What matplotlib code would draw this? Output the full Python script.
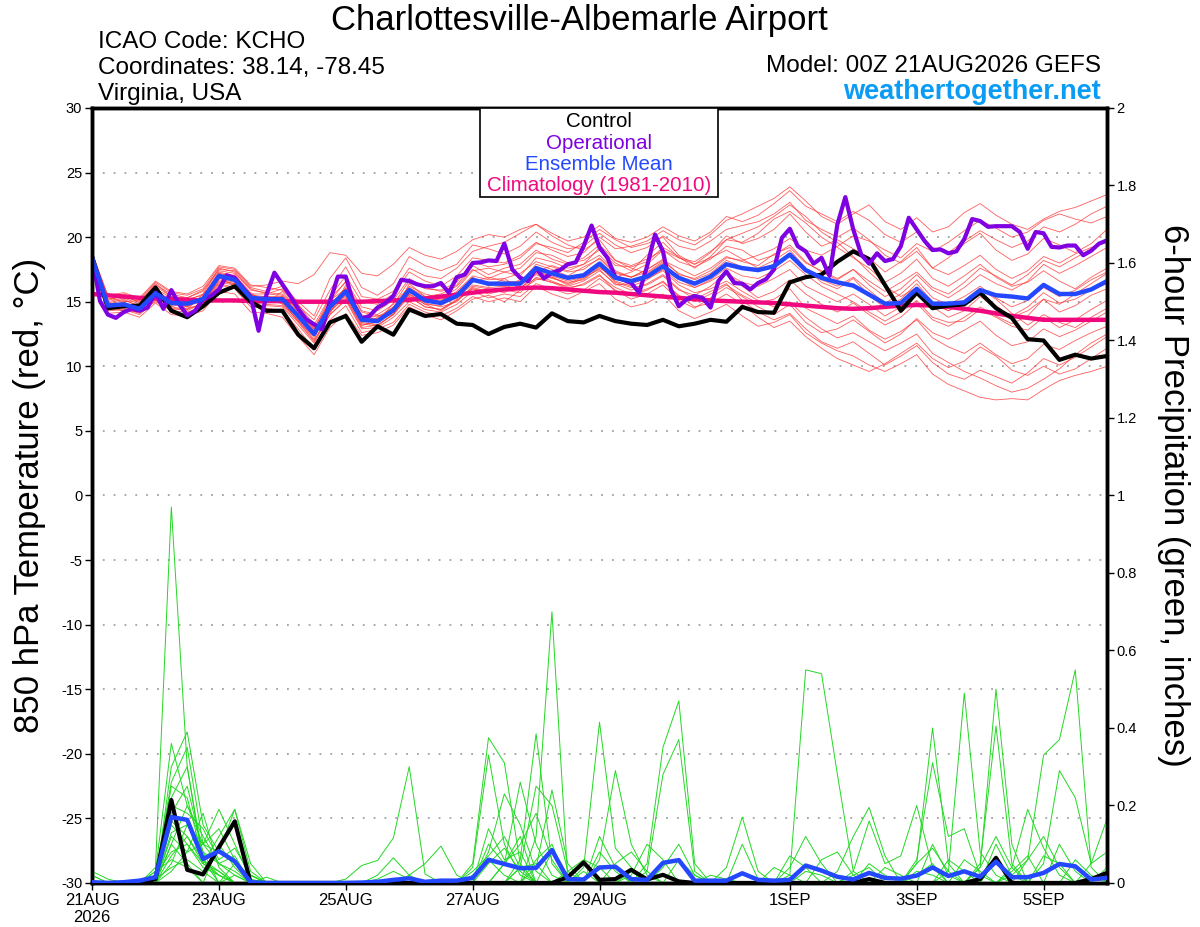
import pandas as pd
import matplotlib
matplotlib.use("Agg")
import matplotlib.pyplot as plt
from matplotlib.patches import Rectangle

plt.rcParams["font.family"] = ["Liberation Sans", "DejaVu Sans"]
plt.rcParams["axes.unicode_minus"] = False

# TIME AXIS (GEFS 00Z run, 6-hourly members, 3-hourly operational)

run_start = pd.Timestamp("2026-08-21 00:00")
times6 = pd.date_range(run_start, periods=65, freq="6h")
times3 = pd.date_range(run_start, periods=129, freq="3h")

tick_dates = pd.to_datetime(["2026-08-21", "2026-08-23", "2026-08-25", "2026-08-27",
                             "2026-08-29", "2026-09-01", "2026-09-03", "2026-09-05"])
tick_labels = ["21AUG\n2026", "23AUG", "25AUG", "27AUG", "29AUG", "1SEP", "3SEP", "5SEP"]

temp_ticks = list(range(-30, 31, 5))
precip_ticks = [0, 0.2, 0.4, 0.6, 0.8, 1.0, 1.2, 1.4, 1.6, 1.8, 2.0]
precip_tick_labels = ["0", "0.2", "0.4", "0.6", "0.8", "1", "1.2", "1.4", "1.6", "1.8", "2"]

# 850 hPa TEMPERATURE (C)

control_t = [18.5, 14.5, 14.65, 14.7, 16.1, 14.3, 13.8, 14.65, 15.7, 16.2,
             15.0, 14.3, 14.3, 12.45, 11.4, 13.4, 13.9, 11.9, 13.1, 12.45,
             14.4, 13.9, 14.05, 13.3, 13.2, 12.5, 13.05, 13.3, 13.0, 14.1,
             13.5, 13.4, 13.9, 13.5, 13.3, 13.2, 13.6, 13.1, 13.3, 13.6,
             13.45, 14.6, 14.2, 14.15, 16.5, 16.9, 17.1, 18.1, 18.9, 18.3,
             16.3, 14.3, 15.7, 14.5, 14.7, 14.8, 15.7, 14.5, 13.75, 12.1,
             12.0, 10.5, 10.9, 10.6, 10.8]

mean_t = [18.4, 14.7, 14.8, 14.45, 15.65, 14.9, 14.85, 15.2, 17.0, 16.7,
          15.3, 15.2, 15.2, 13.9, 12.5, 14.6, 15.8, 13.6, 13.5, 14.35,
          15.9, 15.1, 14.9, 15.45, 16.7, 16.4, 16.4, 16.4, 17.6, 17.2,
          16.85, 17.05, 17.95, 16.85, 16.6, 16.95, 17.75, 16.85, 16.4, 16.95,
          17.9, 17.6, 17.45, 17.75, 18.65, 17.45, 16.85, 16.5, 16.25, 15.55,
          14.85, 14.9, 16.0, 14.85, 14.85, 14.95, 15.9, 15.5, 15.4, 15.25,
          16.3, 15.6, 15.6, 15.95, 16.6]

clim_t = [15.6, 15.5, 15.4, 15.3, 15.25, 15.2, 15.15, 15.1, 15.1, 15.1,
          15.05, 15.05, 15.05, 15.0, 15.0, 15.0, 15.0, 15.0, 15.05, 15.1,
          15.15, 15.25, 15.4, 15.55, 15.7, 15.85, 15.95, 16.05, 16.1, 16.05,
          15.95, 15.85, 15.75, 15.7, 15.6, 15.5, 15.4, 15.3, 15.2, 15.1,
          15.05, 15.0, 14.95, 14.9, 14.8, 14.7, 14.6, 14.5, 14.45, 14.5,
          14.6, 14.7, 14.75, 14.7, 14.6, 14.45, 14.3, 14.1, 13.9, 13.75,
          13.6, 13.6, 13.6, 13.6, 13.6]

oper_t = [18.5, 15.05, 14.0, 13.75, 14.2, 14.45, 14.3, 14.55, 15.7, 14.45,
          15.9, 14.8, 13.95, 14.3, 15.2, 15.45, 15.95, 17.05, 16.85, 16.1,
          15.4, 12.75, 15.55, 17.25, 16.35, 15.45, 14.45, 13.65, 13.25, 12.85,
          15.0, 16.95, 16.95, 14.8, 13.7, 13.9, 14.55, 14.9, 15.45, 16.7,
          16.6, 16.35, 16.2, 16.2, 16.45, 15.7, 16.9, 17.1, 18.0, 18.05,
          18.2, 18.15, 19.5, 17.5, 16.85, 16.6, 17.6, 16.8, 17.25, 17.45,
          17.9, 18.05, 19.3, 20.9, 19.2, 18.4, 16.9, 16.7, 16.45, 15.7,
          17.75, 20.2, 18.9, 15.95, 14.65, 15.2, 15.45, 15.3, 14.55, 16.6,
          17.35, 16.45, 16.4, 15.95, 16.45, 16.75, 17.5, 19.95, 20.65, 19.3,
          18.9, 17.95, 18.4, 17.0, 21.0, 23.1, 20.6, 18.65, 17.95, 18.75,
          18.15, 18.3, 19.3, 21.5, 20.6, 19.7, 19.0, 19.05, 18.75, 18.9,
          19.85, 21.4, 21.25, 20.8, 20.85, 20.85, 20.85, 20.4, 19.1, 20.4,
          20.3, 19.25, 19.2, 19.35, 19.35, 18.6, 18.95, 19.5, 19.75]

members_t = [
    [18.6, 15.2, 15.4, 15.0, 16.3, 15.6, 15.3, 15.8, 17.4, 17.2,
     16.0, 15.6, 16.0, 14.8, 13.2, 15.4, 17.0, 15.0, 14.8, 15.6,
     17.3, 16.6, 16.2, 17.0, 18.4, 18.2, 18.0, 18.6, 19.6, 19.0,
     18.5, 18.8, 20.0, 19.1, 19.3, 19.7, 20.5, 19.8, 19.4, 20.2,
     21.3, 21.8, 22.4, 23.0, 23.9, 22.8, 21.6, 21.0, 21.8, 22.5,
     21.2, 20.6, 21.5, 20.4, 20.8, 21.9, 22.6, 21.7, 21.0, 20.6,
     21.4, 22.0, 22.3, 22.8, 23.3],
    [18.5, 14.3, 14.4, 14.0, 15.1, 14.3, 14.2, 14.6, 16.3, 16.0,
     14.6, 14.5, 14.3, 12.9, 11.3, 13.6, 14.7, 12.6, 12.9, 13.4,
     14.8, 14.2, 13.9, 14.5, 15.4, 15.0, 15.3, 15.0, 16.2, 15.6,
     15.2, 15.8, 16.4, 15.2, 14.6, 14.9, 15.6, 14.3, 13.7, 14.2,
     14.8, 13.9, 13.1, 13.4, 14.0, 12.6, 11.8, 11.2, 10.8, 10.1,
     9.6, 10.2, 10.9, 9.4, 8.6, 8.1, 7.6, 7.4, 7.5, 7.4,
     8.2, 8.9, 9.3, 9.6, 10.0],
    [18.7, 14.9, 14.2, 14.6, 15.3, 15.2, 14.4, 15.6, 16.8, 17.1,
     15.7, 14.9, 15.8, 14.3, 12.9, 14.1, 16.3, 14.2, 13.9, 14.0,
     16.4, 15.4, 15.6, 16.2, 17.5, 16.8, 17.3, 17.0, 18.4, 18.1,
     17.6, 17.9, 19.2, 18.0, 17.4, 18.6, 19.6, 18.4, 17.9, 18.8,
     20.1, 19.5, 19.9, 20.6, 21.8, 20.4, 19.3, 19.8, 19.1, 18.4,
     17.3, 18.1, 19.2, 17.6, 18.4, 19.5, 20.3, 19.0, 18.2, 18.7,
     19.9, 19.4, 18.8, 19.5, 20.6],
    [18.4, 14.6, 15.0, 14.2, 15.9, 14.6, 15.0, 14.9, 16.6, 16.4,
     15.0, 15.5, 14.8, 13.6, 12.1, 14.9, 15.4, 13.1, 13.8, 14.6,
     15.5, 14.8, 14.3, 15.1, 16.0, 15.6, 15.9, 16.1, 16.8, 16.5,
     16.0, 16.4, 17.1, 15.8, 15.5, 15.9, 16.6, 15.4, 15.0, 15.6,
     16.3, 15.5, 14.9, 15.2, 16.0, 14.5, 13.9, 13.3, 13.9, 12.8,
     12.1, 12.7, 13.6, 12.2, 11.5, 11.0, 11.8, 10.9, 10.2, 10.6,
     11.7, 11.3, 12.0, 12.6, 13.1],
    [18.8, 15.5, 15.7, 15.3, 16.6, 15.8, 15.6, 16.2, 17.8, 17.6,
     16.3, 16.1, 15.9, 14.7, 13.6, 15.9, 17.7, 15.4, 15.2, 15.8,
     17.6, 17.0, 16.8, 17.6, 18.9, 19.3, 19.6, 20.3, 21.0, 20.1,
     19.4, 19.0, 19.8, 18.2, 17.6, 17.2, 18.0, 16.8, 16.1, 16.6,
     17.3, 16.2, 15.3, 15.8, 16.7, 15.6, 14.8, 14.2, 14.9, 14.0,
     13.2, 13.8, 14.9, 13.6, 13.1, 13.8, 14.6, 13.9, 13.3, 13.9,
     15.2, 14.8, 15.6, 16.4, 17.2],
    [18.3, 14.1, 14.2, 13.8, 14.9, 14.0, 13.9, 14.3, 15.8, 15.6,
     14.2, 14.1, 13.8, 12.3, 10.9, 13.0, 14.1, 12.4, 12.6, 13.2,
     14.6, 14.0, 13.6, 14.3, 15.2, 15.5, 15.0, 15.9, 16.7, 16.9,
     16.3, 16.8, 17.6, 16.9, 17.3, 17.9, 19.0, 18.4, 18.1, 18.9,
     19.8, 20.3, 20.8, 21.6, 22.5, 21.6, 20.4, 19.6, 18.5, 17.3,
     16.2, 15.4, 16.1, 14.8, 14.3, 15.1, 16.0, 15.2, 14.1, 13.2,
     14.0, 13.4, 13.0, 13.8, 14.5],
    [18.6, 14.8, 15.1, 14.7, 15.4, 15.0, 14.6, 15.4, 17.2, 16.9,
     15.6, 15.0, 15.3, 14.1, 12.7, 15.1, 16.0, 14.0, 13.4, 14.9,
     16.1, 15.4, 15.1, 15.7, 16.9, 16.2, 16.8, 16.0, 17.3, 17.8,
     17.4, 17.9, 18.6, 17.4, 16.9, 17.5, 18.2, 17.6, 17.0, 17.6,
     18.5, 18.1, 17.8, 18.7, 19.2, 18.0, 17.4, 16.8, 17.5, 16.6,
     15.8, 16.5, 17.3, 16.1, 15.6, 16.5, 17.6, 17.0, 16.3, 17.1,
     18.2, 17.7, 18.4, 19.1, 19.8],
    [18.5, 14.5, 14.9, 14.5, 15.7, 14.7, 15.2, 15.1, 16.9, 16.2,
     15.3, 15.4, 15.0, 13.5, 12.3, 14.3, 15.6, 13.3, 13.1, 14.1,
     15.6, 14.9, 14.6, 15.0, 16.2, 16.0, 15.7, 16.3, 17.1, 16.6,
     16.1, 16.3, 17.0, 16.1, 15.6, 16.0, 16.5, 15.5, 14.6, 14.9,
     15.6, 14.8, 13.8, 13.0, 13.5, 12.3, 11.4, 10.6, 10.1, 9.6,
     10.2, 11.0, 11.8, 10.6, 9.9, 10.4, 11.5, 10.8, 9.7, 9.3,
     10.0, 9.4, 9.8, 10.6, 11.4],
    [18.4, 14.9, 14.6, 14.3, 15.8, 14.8, 14.7, 15.0, 16.9, 16.6,
     15.2, 15.0, 15.4, 14.0, 12.6, 14.4, 15.9, 13.7, 13.9, 14.2,
     15.7, 15.3, 15.2, 15.5, 16.5, 16.9, 16.6, 16.5, 17.9, 17.5,
     17.0, 17.7, 18.3, 17.2, 16.9, 17.5, 18.3, 17.1, 16.8, 17.4,
     18.4, 18.2, 18.6, 19.1, 19.9, 19.0, 18.6, 19.3, 20.1, 19.7,
     19.0, 18.4, 19.5, 18.9, 19.6, 20.5, 21.3, 20.7, 20.0, 20.4,
     21.3, 21.8, 21.4, 21.1, 21.6],
    [18.6, 14.4, 14.5, 14.1, 15.2, 14.5, 14.3, 14.9, 16.5, 16.3,
     14.8, 14.7, 14.6, 13.2, 11.8, 14.0, 15.1, 12.9, 13.0, 13.8,
     15.0, 14.4, 14.2, 14.8, 15.8, 15.3, 15.6, 15.4, 16.4, 16.0,
     15.6, 15.9, 16.8, 15.9, 15.2, 15.6, 16.3, 15.1, 14.5, 15.3,
     16.1, 15.4, 14.6, 14.0, 14.8, 13.4, 12.6, 12.9, 13.6, 12.7,
     11.8, 12.5, 13.7, 12.6, 12.1, 12.8, 13.5, 12.4, 11.6, 11.9,
     12.9, 12.3, 12.8, 13.5, 14.2],
    [18.7, 15.0, 15.3, 14.8, 16.0, 15.3, 15.1, 15.6, 17.6, 17.3,
     15.9, 15.7, 15.6, 14.4, 13.0, 15.0, 16.6, 14.6, 14.3, 15.1,
     16.8, 16.1, 15.8, 16.3, 17.8, 17.1, 17.6, 17.9, 19.0, 18.3,
     17.9, 18.4, 19.4, 18.2, 17.8, 18.3, 19.0, 18.1, 17.7, 18.3,
     19.3, 19.0, 18.2, 18.6, 19.4, 18.1, 17.3, 16.7, 17.5, 16.3,
     15.4, 16.0, 17.1, 15.9, 15.3, 16.1, 17.1, 16.4, 15.9, 16.6,
     17.9, 17.2, 17.8, 18.5, 19.2],
    [18.5, 14.7, 14.6, 14.6, 15.5, 14.9, 14.6, 15.3, 17.0, 16.8,
     15.4, 15.3, 15.1, 13.7, 12.4, 14.5, 15.7, 13.5, 13.6, 14.4,
     16.0, 15.2, 14.8, 15.3, 16.6, 16.5, 16.2, 16.7, 17.4, 16.9,
     16.4, 16.9, 17.5, 16.3, 16.4, 16.8, 17.4, 16.3, 15.7, 16.0,
     16.6, 15.8, 15.1, 14.6, 15.0, 13.8, 12.9, 12.2, 12.6, 11.9,
     11.2, 11.8, 12.5, 11.0, 10.3, 9.6, 9.1, 8.5, 8.0, 8.3,
     9.0, 9.8, 10.9, 11.8, 12.5],
    [18.6, 15.1, 15.5, 14.9, 16.2, 15.4, 15.3, 15.9, 17.5, 17.4,
     16.1, 15.8, 16.2, 15.0, 13.9, 16.8, 18.4, 16.1, 15.5, 16.4,
     18.5, 17.8, 17.4, 17.9, 19.4, 19.1, 18.7, 19.3, 20.4, 19.6,
     19.1, 19.3, 20.3, 19.4, 18.8, 19.2, 20.1, 19.3, 19.0, 19.7,
     20.6, 20.9, 21.2, 21.8, 22.7, 21.3, 20.6, 20.0, 20.7, 19.8,
     18.6, 18.0, 18.9, 17.6, 17.1, 17.8, 18.6, 17.5, 16.8, 17.4,
     18.5, 18.0, 18.7, 19.2, 19.6],
    [18.4, 14.6, 14.7, 14.3, 15.6, 14.8, 14.9, 15.0, 16.8, 16.5,
     15.1, 15.1, 15.0, 13.8, 12.4, 14.2, 15.5, 13.4, 13.2, 14.0,
     15.6, 14.8, 14.7, 15.4, 16.3, 16.1, 16.2, 16.0, 17.2, 16.8,
     16.5, 16.7, 17.7, 16.6, 16.2, 16.7, 17.5, 16.5, 16.1, 16.7,
     17.6, 17.0, 16.8, 17.4, 18.2, 17.1, 16.2, 15.6, 15.0, 14.2,
     13.5, 14.2, 15.1, 13.8, 13.4, 13.5, 14.4, 13.8, 13.1, 12.8,
     13.8, 13.0, 13.6, 14.4, 15.1],
    [18.5, 14.8, 14.9, 14.5, 15.8, 15.0, 14.8, 15.3, 17.1, 16.9,
     15.5, 15.4, 15.4, 14.2, 12.8, 14.8, 16.0, 13.9, 13.6, 14.6,
     16.2, 15.6, 15.3, 16.0, 17.4, 17.6, 17.3, 17.6, 18.8, 18.6,
     18.0, 18.2, 19.0, 17.8, 17.7, 18.1, 19.2, 18.5, 17.6, 18.5,
     19.8, 19.6, 20.3, 21.4, 22.0, 21.1, 20.0, 19.2, 18.4, 17.6,
     16.5, 17.2, 18.3, 16.8, 16.2, 17.0, 17.9, 16.9, 16.2, 16.5,
     17.4, 16.6, 16.0, 16.9, 17.6],
    [18.6, 14.5, 14.3, 14.2, 15.0, 14.4, 14.5, 14.8, 16.4, 16.1,
     14.9, 14.8, 14.7, 13.4, 11.9, 14.3, 15.3, 13.2, 13.4, 14.3,
     15.4, 14.6, 14.4, 15.2, 16.1, 15.8, 16.0, 16.6, 17.3, 17.0,
     16.6, 16.9, 17.8, 16.5, 16.1, 16.3, 17.0, 15.9, 15.5, 16.2,
     17.2, 16.5, 16.2, 16.8, 17.5, 16.2, 15.6, 15.0, 15.6, 14.8,
     13.9, 14.6, 15.8, 14.6, 13.8, 14.3, 15.4, 14.6, 13.9, 14.6,
     15.7, 14.9, 15.2, 15.9, 16.4],
    [18.8, 15.3, 15.0, 15.1, 16.4, 15.4, 15.2, 15.5, 17.3, 17.0,
     15.6, 15.6, 15.5, 14.3, 12.9, 15.3, 16.5, 14.3, 14.0, 14.8,
     16.6, 16.0, 15.9, 16.5, 18.1, 17.7, 17.9, 18.4, 19.5, 19.2,
     18.8, 19.6, 20.6, 19.8, 19.2, 19.5, 20.0, 18.6, 17.9, 18.4,
     19.0, 18.3, 17.6, 18.2, 19.0, 17.6, 16.5, 16.0, 16.8, 15.5,
     14.5, 15.2, 16.4, 15.0, 14.3, 14.9, 15.8, 14.7, 13.8, 14.3,
     15.2, 14.2, 14.7, 15.5, 16.0],
    [18.4, 14.4, 14.6, 14.4, 15.4, 14.6, 14.4, 14.9, 16.7, 16.4,
     14.9, 15.0, 14.9, 13.5, 12.0, 14.0, 15.2, 13.0, 13.2, 14.0,
     15.4, 14.6, 14.4, 15.1, 16.0, 15.8, 15.9, 15.7, 16.9, 16.5,
     16.2, 16.6, 17.4, 16.4, 15.9, 16.4, 17.1, 16.0, 15.2, 15.8,
     16.4, 15.1, 14.2, 13.6, 14.1, 12.9, 11.9, 11.4, 11.9, 11.0,
     10.1, 10.8, 11.6, 10.3, 9.4, 9.0, 9.7, 9.2, 8.7, 9.5,
     10.6, 10.1, 10.7, 11.5, 12.3],
    [18.7, 15.4, 15.6, 15.2, 16.5, 15.7, 15.5, 16.0, 17.7, 17.5,
     16.2, 16.3, 16.6, 16.4, 17.1, 18.8, 18.6, 17.2, 17.0, 17.9,
     19.2, 18.6, 18.3, 18.9, 19.8, 20.2, 20.0, 20.6, 21.0, 20.3,
     19.7, 20.0, 20.9, 19.9, 19.6, 20.0, 20.8, 20.1, 19.7, 20.4,
     21.6, 21.2, 21.7, 22.6, 23.6, 22.4, 21.8, 21.2, 22.0, 21.3,
     20.2, 19.6, 20.4, 19.2, 18.8, 19.7, 20.5, 19.8, 19.2, 19.7,
     20.8, 20.4, 21.0, 21.8, 22.4],
    [18.5, 14.9, 15.2, 14.6, 15.9, 15.1, 14.9, 15.4, 17.2, 16.9,
     15.5, 15.2, 15.3, 13.9, 12.6, 14.6, 16.1, 13.8, 13.7, 14.5,
     16.0, 15.3, 15.0, 15.8, 17.0, 16.7, 16.8, 17.2, 18.1, 17.7,
     17.3, 17.5, 18.4, 17.3, 16.9, 17.3, 18.1, 17.2, 16.7, 17.2,
     18.2, 17.7, 17.4, 17.9, 18.6, 17.5, 16.7, 16.2, 16.9, 15.9,
     14.9, 15.6, 16.7, 15.3, 14.8, 15.4, 16.2, 15.3, 14.6, 15.1,
     16.1, 15.4, 15.9, 16.7, 17.3],
]

# 6-HOUR PRECIPITATION (inches)

control_p = [0, 0, 0, 0, .01, .214, .034, .022, .092, .159,
             0, 0, 0, 0, 0, 0, 0, 0, 0, 0,
             0, 0, 0, 0, 0, 0, 0, 0, 0, 0,
             .015, .053, .008, .01, .034, .009, .021, .004, 0, 0,
             0, 0, 0, 0, 0, 0, 0, 0, 0, .01,
             0, 0, 0, 0, 0, 0, .01, .065, 0, 0,
             0, 0, 0, .01, .026]

mean_p = [.002, 0, .002, .006, .015, .17, .163, .062, .082, .056,
          .002, 0, 0, 0, 0, 0, 0, .001, .003, .008,
          .012, .003, .006, .006, .013, .06, .049, .038, .039, .085,
          .01, .009, .04, .042, .01, .008, .052, .059, .006, .006,
          .006, .025, .008, .006, .008, .045, .032, .016, .009, .026,
          .013, .011, .019, .04, .018, .03, .016, .055, .015, .015,
          .026, .049, .043, .009, .013]

members_p = [
    [0, 0, 0, 0, .04, .97, .30, .06, .02, 0,
     0, 0, 0, 0, 0, 0, 0, 0, 0, 0,
     0, 0, 0, 0, 0, 0, 0, 0, 0, 0,
     0, 0, 0, 0, 0, 0, 0, 0, 0, 0,
     0, 0, 0, 0, .02, .55, .54, .28, .03, 0,
     0, 0, .02, .05, 0, 0, 0, 0, 0, 0,
     0, 0, 0, 0, 0],
    [.02, 0, 0, 0, .03, .36, .20, .10, .05, .02,
     0, 0, 0, 0, 0, 0, 0, 0, 0, 0,
     0, 0, 0, 0, 0, 0, 0, 0, .12, .70,
     .01, 0, 0, 0, 0, 0, 0, 0, 0, 0,
     0, 0, 0, 0, 0, 0, 0, 0, 0, 0,
     0, 0, 0, 0, 0, 0, 0, 0, .02, .06,
     .33, .37, .55, .04, 0],
    [0, 0, 0, 0, 0, .30, .39, .15, .08, .05,
     .02, 0, 0, 0, 0, 0, 0, 0, 0, 0,
     0, 0, 0, 0, .05, .375, .31, .05, 0, 0,
     0, 0, 0, 0, 0, 0, 0, 0, 0, 0,
     0, 0, 0, 0, 0, 0, 0, 0, 0, 0,
     0, 0, 0, 0, .03, .49, .08, .02, 0, 0,
     0, 0, 0, 0, 0],
    [0, 0, 0, 0, .02, .26, .35, .10, .19, .10,
     .01, 0, 0, 0, 0, 0, 0, 0, 0, 0,
     0, 0, 0, 0, 0, 0, 0, .06, .385, .05,
     0, 0, 0, 0, 0, .05, .35, .47, .05, 0,
     0, 0, 0, 0, 0, 0, 0, 0, 0, 0,
     0, 0, 0, 0, 0, 0, .04, .50, .10, 0,
     0, 0, 0, 0, 0],
    [0, 0, 0, 0, 0, .22, .30, .05, .12, .19,
     .03, 0, 0, 0, 0, 0, .01, .045, .058, .116,
     .30, .023, 0, 0, 0, 0, 0, 0, 0, 0,
     0, .04, .415, .09, .04, 0, 0, 0, 0, 0,
     0, 0, 0, 0, 0, 0, 0, 0, 0, 0,
     0, 0, .05, .40, .05, 0, 0, 0, 0, 0,
     0, 0, 0, 0, 0],
    [0, 0, 0, 0, 0, .18, .25, .08, .05, .07,
     0, 0, 0, 0, 0, 0, 0, 0, 0, 0,
     0, 0, 0, 0, .04, .33, .10, .02, 0, 0,
     0, 0, 0, 0, 0, .03, .28, .37, .03, 0,
     0, 0, 0, 0, 0, 0, 0, 0, 0, 0,
     0, 0, 0, 0, 0, 0, 0, 0, 0, 0,
     .05, .29, .22, .05, .165],
    [.03, .01, 0, 0, 0, .13, .15, .10, .08, .19,
     .05, 0, 0, 0, 0, 0, 0, 0, 0, 0,
     0, 0, 0, 0, 0, 0, .05, .26, .10, .02,
     0, 0, 0, 0, 0, 0, 0, 0, 0, 0,
     .04, .17, .03, 0, 0, 0, 0, 0, 0, 0,
     0, 0, .06, .31, .12, .14, .02, 0, 0, 0,
     0, 0, 0, 0, 0],
    [0, 0, 0, 0, 0, .10, .20, .12, .05, .03,
     0, 0, 0, 0, 0, 0, 0, 0, 0, 0,
     .02, .05, .095, .02, 0, .08, .23, .15, .03, 0,
     0, 0, 0, 0, 0, 0, 0, 0, 0, 0,
     0, 0, 0, 0, 0, 0, 0, .03, .12, .195,
     .07, 0, 0, 0, 0, 0, .05, .405, .05, 0,
     0, 0, 0, 0, 0],
    [0, 0, 0, 0, .02, .08, .10, .05, .03, 0,
     0, .015, 0, 0, 0, 0, 0, 0, 0, 0,
     0, 0, 0, 0, 0, 0, 0, .04, .25, .20,
     .03, 0, .06, .29, .10, .02, 0, 0, 0, 0,
     0, 0, 0, 0, 0, 0, 0, 0, 0, 0,
     0, 0, 0, 0, 0, 0, 0, 0, .04, .19,
     .09, .02, 0, 0, 0],
    [0, 0, 0, 0, 0, .05, .15, .08, 0, .02,
     0, 0, 0, 0, 0, 0, 0, 0, 0, 0,
     0, 0, 0, 0, 0, 0, 0, 0, .04, .24,
     .05, 0, .08, .03, 0, 0, 0, 0, 0, 0,
     0, 0, 0, 0, 0, 0, 0, 0, .03, .16,
     .05, .07, .20, .04, 0, 0, 0, 0, 0, 0,
     0, 0, 0, 0, 0],
    [.02, 0, 0, 0, 0, .15, .10, .04, .02, 0,
     0, 0, 0, 0, 0, 0, 0, 0, .02, .065,
     .02, 0, 0, 0, 0, .10, .05, .12, 0, 0,
     0, 0, 0, 0, .02, .10, .06, 0, 0, 0,
     0, 0, 0, 0, .04, .12, .05, 0, 0, 0,
     0, 0, 0, 0, 0, 0, 0, .10, .02, 0,
     0, 0, 0, 0, .03],
    [0, 0, 0, 0, 0, .12, .08, .10, .14, .06,
     0, 0, 0, 0, 0, 0, 0, 0, 0, 0,
     0, 0, 0, 0, 0, 0, 0, 0, 0, 0,
     .03, .06, .04, 0, 0, 0, 0, 0, 0, 0,
     0, .10, .01, 0, .07, .04, 0, 0, 0, 0,
     0, 0, 0, 0, .06, .03, 0, 0, 0, 0,
     .07, .05, 0, 0, 0],
    [0, 0, 0, 0, 0, .07, .12, .06, .03, 0,
     0, 0, 0, 0, 0, 0, 0, 0, 0, 0,
     0, 0, 0, 0, .03, .07, .12, .04, 0, 0,
     0, 0, 0, 0, 0, 0, 0, .06, .02, 0,
     0, 0, 0, 0, 0, 0, 0, 0, 0, 0,
     0, 0, .05, .09, .03, 0, 0, 0, 0, 0,
     0, 0, .06, .02, 0],
    [0, 0, 0, 0, 0, .20, .18, .14, .06, .09,
     .02, 0, 0, 0, 0, 0, 0, 0, 0, 0,
     0, 0, 0, 0, 0, 0, 0, 0, .06, .10,
     0, .03, 0, 0, 0, 0, 0, 0, 0, 0,
     0, 0, 0, 0, 0, 0, .06, .08, .02, 0,
     0, 0, 0, 0, 0, 0, .04, .12, .04, 0,
     0, 0, 0, 0, 0],
    [0, 0, 0, 0, .01, .04, .06, .03, 0, 0,
     0, 0, 0, 0, 0, 0, 0, 0, 0, 0,
     0, 0, 0, 0, 0, .14, .06, .08, 0, 0,
     0, 0, 0, .05, .08, .03, 0, 0, 0, 0,
     0, 0, 0, 0, 0, 0, 0, 0, 0, 0,
     .04, .02, 0, 0, 0, 0, 0, 0, 0, .06,
     .12, .04, 0, 0, 0],
    [0, 0, 0, 0, 0, .10, .05, 0, .10, .04,
     0, 0, 0, 0, 0, 0, 0, 0, .01, .03,
     .01, 0, 0, 0, 0, 0, .05, .10, .18, .06,
     0, 0, 0, 0, 0, 0, 0, 0, 0, 0,
     0, 0, 0, .04, .02, 0, 0, 0, 0, 0,
     0, 0, 0, .10, .02, 0, 0, 0, 0, 0,
     0, 0, 0, .05, .08],
    [0, 0, 0, 0, 0, .03, .08, .18, .04, 0,
     0, 0, 0, 0, 0, 0, 0, 0, 0, 0,
     0, 0, 0, 0, .02, .06, .02, 0, 0, 0,
     0, 0, 0, 0, 0, 0, .04, .10, .02, 0,
     0, 0, 0, 0, 0, 0, 0, 0, 0, .05,
     .02, 0, 0, 0, 0, .06, .03, 0, 0, 0,
     0, 0, 0, 0, 0],
    [0, 0, 0, 0, 0, .16, .12, .05, .02, 0,
     0, 0, 0, 0, 0, 0, 0, 0, 0, 0,
     0, 0, 0, 0, 0, 0, 0, 0, 0, .08,
     .02, .05, 0, 0, 0, 0, 0, 0, 0, .02,
     .01, 0, 0, 0, 0, 0, 0, 0, 0, 0,
     0, 0, .03, .02, 0, 0, 0, 0, 0, 0,
     0, .10, .03, 0, 0],
    [0, 0, 0, 0, .03, .06, .04, 0, 0, .05,
     .02, 0, 0, 0, 0, 0, 0, 0, 0, 0,
     0, 0, 0, 0, 0, 0, 0, .04, .05, 0,
     0, 0, .12, .04, 0, 0, 0, 0, 0, 0,
     0, 0, 0, 0, 0, .03, .02, 0, 0, 0,
     0, 0, 0, 0, 0, 0, 0, 0, .03, .07,
     0, 0, 0, 0, 0],
    [0, 0, 0, 0, 0, .25, .22, .06, 0, 0,
     0, 0, 0, 0, 0, 0, 0, 0, 0, 0,
     0, 0, 0, 0, 0, .05, .09, .03, 0, 0,
     0, 0, 0, 0, .03, 0, 0, 0, 0, 0,
     0, 0, 0, 0, 0, 0, 0, 0, .02, .04,
     0, 0, 0, 0, 0, 0, 0, .06, 0, 0,
     0, 0, 0, 0, .04],
]

# PLOT

fig = plt.figure(figsize=(12, 9.27), dpi=100)
ax = fig.add_axes([0.0767, 0.0475, 0.8458, 0.836])
ax2 = ax.twinx()

for m in members_t:
    ax.plot(times6, m, color="#ff3434", lw=0.6, alpha=0.8, zorder=2)
ax.plot(times6, clim_t, color="#f0087f", lw=3.2, zorder=3)
ax.plot(times6, control_t, color="black", lw=3, zorder=4)
ax.plot(times3, oper_t, color="#7f00e0", lw=3, zorder=5)
ax.plot(times6, mean_t, color="#2448ff", lw=3.2, zorder=6)

for m in members_p:
    ax2.plot(times6, m, color="#22d822", lw=0.7, zorder=2)
ax2.plot(times6, control_p, color="black", lw=3, zorder=4)
ax2.plot(times6, mean_p, color="#2448ff", lw=3.2, zorder=5)

# AXES

ax.set_xlim(times6[0], times6[-1])
ax.set_ylim(-30, 30)
ax.set_yticks(temp_ticks)
ax.set_xticks(tick_dates)
ax.set_xticklabels(tick_labels)
ax.grid(axis="y", color="#a0a0a0", linestyle=(0, (1, 5)), lw=1.3)
ax.tick_params(axis="y", direction="out", length=5, width=1, labelsize=10.5, pad=2)
ax.tick_params(axis="x", direction="out", length=5, width=1, labelsize=12, pad=2)

ax2.set_ylim(0, 2)
ax2.set_yticks(precip_ticks)
ax2.set_yticklabels(precip_tick_labels)
ax2.tick_params(axis="y", direction="out", length=5, width=1, labelsize=10.5, pad=2)

for a in (ax, ax2):
    for sp in a.spines.values():
        sp.set_linewidth(2.5)

# LEGEND BOX

ax2.add_patch(Rectangle((0.382, 0.885), 0.235, 0.115, transform=ax2.transAxes,
                        facecolor="white", edgecolor="black", lw=1.2, zorder=10))
legend_items = [("Control", "black"), ("Operational", "#7f00e0"),
                ("Ensemble Mean", "#2448ff"), ("Climatology (1981-2010)", "#f0087f")]
for k, (txt, col) in enumerate(legend_items):
    ax2.text(0.4995, 0.982 - k * 0.0275, txt, color=col, fontsize=14.8,
             ha="center", va="center", transform=ax2.transAxes, zorder=11)

# TITLES / LABELS

fig.text(0.483, 0.978, "Charlottesville-Albemarle Airport", fontsize=25, ha="center", va="center")
fig.text(0.0817, 0.955, "ICAO Code: KCHO", fontsize=17.5, ha="left", va="center")
fig.text(0.0817, 0.927, "Coordinates: 38.14, -78.45", fontsize=17.5, ha="left", va="center")
fig.text(0.0817, 0.899, "Virginia, USA", fontsize=17.5, ha="left", va="center")
fig.text(0.9175, 0.929, "Model: 00Z 21AUG2026 GEFS", fontsize=17.5, ha="right", va="center")
fig.text(0.9175, 0.901, "weathertogether.net", fontsize=19.5, fontweight="bold",
         color="#0a9cf5", ha="right", va="center")

fig.text(0.025, 0.466, "850 hPa Temperature (red, °C)", fontsize=25, rotation=90,
         ha="center", va="center")
fig.text(0.978, 0.466, "6-hour Precipitation (green, inches)", fontsize=25, rotation=-90,
         ha="center", va="center")

fig.savefig("out.png", dpi=100)
